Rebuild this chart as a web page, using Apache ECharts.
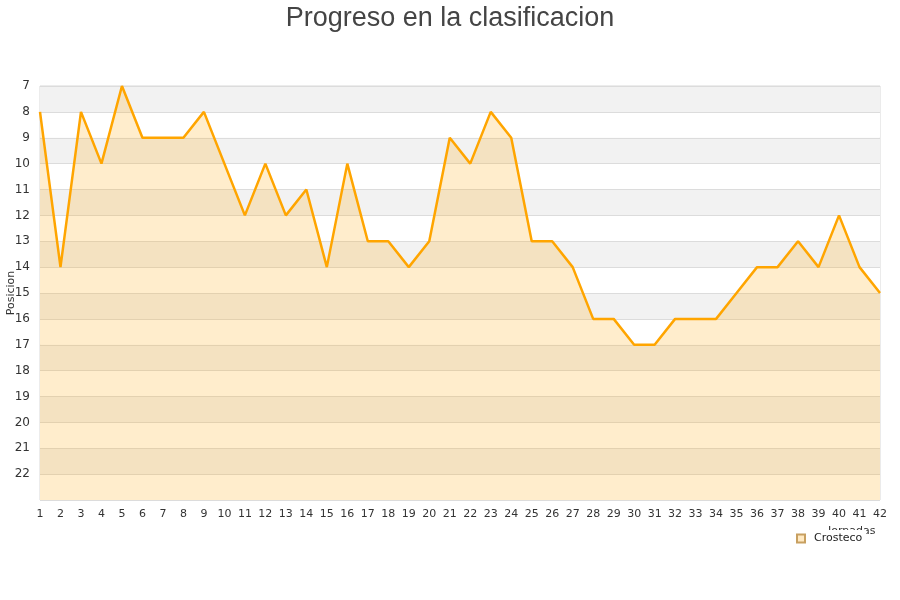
<!DOCTYPE html>
<html>
<head>
<meta charset="utf-8">
<script src="https://cdn.jsdelivr.net/npm/echarts@6/dist/echarts.min.js"></script>
<style>
  html, body { margin: 0; padding: 0; background: #fff; }
  #main { width: 900px; height: 600px; }
</style>
</head>
<body>
<div id="main"></div>
<script>
// jornadas y posiciones
var jornadas = [];
for (var j = 1; j <= 42; j++) jornadas.push(String(j));
var posiciones = [8, 14, 8, 10, 7, 9, 9, 9, 8, 10, 12, 10, 12, 11, 14, 10, 13, 13, 14, 13,
                  9, 10, 8, 9, 13, 13, 14, 16, 16, 17, 17, 16, 16, 16, 15, 14, 14, 13, 14, 12,
                  14, 15];
var equipo = 'Crosteco';

var myChart = echarts.init(document.getElementById('main'));
var option = {
  animation: false,
  title: {
    text: 'Progreso en la clasificacion',
    left: 'center',
    top: 0,
    textStyle: { fontFamily: 'Liberation Sans', fontSize: 27, fontWeight: 'normal', color: '#444' }
  },
  legend: {
    data: [{ name: equipo, icon: 'rect' }],
    left: 792,
    top: 530,
    itemWidth: 8,
    itemHeight: 8,
    itemGap: 6,
    backgroundColor: '#fff',
    padding: [3, 4, 3, 4],
    textStyle: { fontFamily: 'DejaVu Sans', fontSize: 11, color: '#222', padding: [0, 0, 0, 4] }
  },
  grid: {
    left: 40, right: 20, top: 86, bottom: 100,
    outerBoundsMode: 'none', containLabel: false,
    show: true, borderColor: '#d8d8d8', borderWidth: 1
  },
  xAxis: {
    type: 'category',
    data: jornadas,
    boundaryGap: false,
    name: 'Jornadas',
    nameLocation: 'end',
    nameGap: -52,
    nameMoveOverlap: false,
    nameTextStyle: { fontFamily: 'DejaVu Sans', fontSize: 11, color: '#333', verticalAlign: 'top', padding: [26, 0, 0, 0] },
    axisLine: { show: false },
    axisTick: { show: false },
    axisLabel: { fontFamily: 'DejaVu Sans', fontSize: 11, color: '#333', margin: 9 },
    splitLine: { show: false }
  },
  yAxis: {
    type: 'value',
    inverse: true,
    min: 7,
    max: 23,
    interval: 1,
    name: 'Posicion',
    nameLocation: 'middle',
    nameGap: 23,
    nameMoveOverlap: false,
    nameTextStyle: { fontFamily: 'DejaVu Sans', fontSize: 11, color: '#333' },
    axisLine: { show: false },
    axisTick: { show: false },
    axisLabel: {
      fontFamily: 'DejaVu Sans', fontSize: 12, color: '#333', margin: 10,
      formatter: function (v) { return v === 23 ? '' : v; }
    },
    splitLine: { show: true, lineStyle: { color: '#dcdcdc', width: 1 } },
    splitArea: { show: true, areaStyle: { color: ['#f2f2f2', '#ffffff'] } }
  },
  series: [{
    name: equipo,
    type: 'line',
    data: posiciones,
    symbol: 'none',
    lineStyle: { color: '#FFA500', width: 2.5 },
    itemStyle: { color: '#ffe9c2', borderColor: '#c8a060', borderWidth: 1 },
    areaStyle: { color: 'rgba(255,165,0,0.2)', opacity: 1, origin: 'end' }
  }]
};
myChart.setOption(option);
</script>
</body>
</html>
